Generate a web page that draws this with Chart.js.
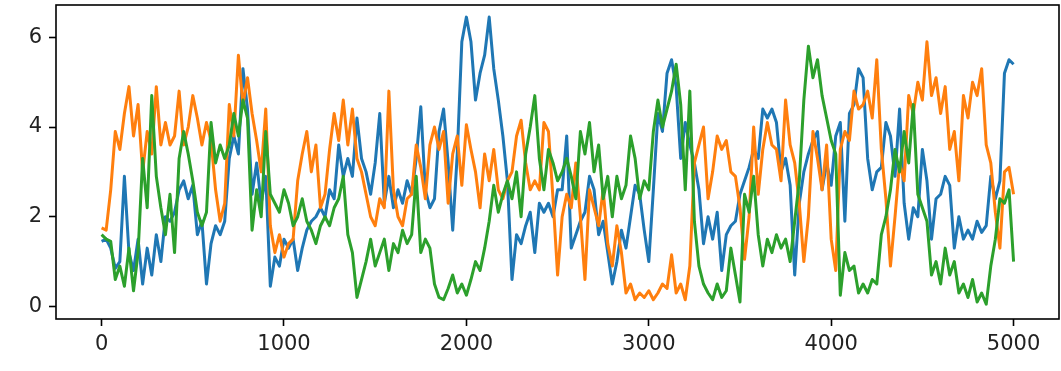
<!DOCTYPE html>
<html>
<head>
<meta charset="utf-8">
<script src="https://cdn.jsdelivr.net/npm/chart.js@4.4.1/dist/chart.umd.min.js"></script>
<style>
  html, body { margin: 0; padding: 0; background: #fff; }
  #wrap { width: 1061px; height: 371px; }
</style>
</head>
<body>
<div id="wrap"><canvas id="myChart" width="1061" height="371"></canvas></div>
<script>
// one sample every STEP steps, 0 .. 5000
const STEP = 25;

const blueValues = [
  1.45, 1.5, 1.3, 0.85, 1.0, 2.9, 1.2, 0.8, 1.5, 0.5,
  1.3, 0.7, 1.6, 1.0, 2.0, 1.9, 2.1, 2.6, 2.8, 2.4,
  2.7, 1.6, 1.9, 0.5, 1.4, 1.8, 1.6, 1.9, 3.3, 3.8,
  3.4, 5.3, 4.4, 2.5, 3.2, 2.3, 2.9, 0.45, 1.1, 0.9,
  1.5, 1.3, 1.5, 0.8, 1.3, 1.7, 1.9, 2.0, 2.2, 2.0,
  2.6, 2.4, 3.6, 2.9, 3.3, 2.9, 4.2, 3.3, 3.0, 2.5,
  3.2, 4.3, 2.3, 2.9, 2.2, 2.6, 2.3, 2.8, 2.5, 3.3,
  4.45, 2.6, 2.2, 2.4, 3.9, 4.4, 3.2, 1.7, 3.4, 5.9,
  6.45, 5.9, 4.6, 5.2, 5.6, 6.45, 5.3, 4.6, 3.8, 2.8,
  0.6, 1.6, 1.4, 1.8, 2.1, 1.2, 2.3, 2.1, 2.3, 2.0,
  2.6, 2.6, 3.8, 1.3, 1.6, 1.9, 2.1, 2.9, 2.6, 1.6,
  1.9, 1.2, 0.5, 1.0, 1.7, 1.3, 2.0, 2.7, 2.5, 1.7,
  1.0, 2.6, 4.3, 3.9, 5.2, 5.5, 4.9, 3.3, 4.1, 3.6,
  3.2, 2.6, 1.4, 2.0, 1.5, 2.1, 0.8, 1.6, 1.8, 1.9,
  2.5, 2.8, 3.1, 3.5, 3.3, 4.4, 4.2, 4.4, 4.1, 3.0,
  3.3, 2.7, 0.7, 2.3, 3.0, 3.4, 3.7, 3.9, 2.6, 3.2,
  2.7, 3.8, 4.1, 1.9, 4.3, 4.5, 5.3, 5.1, 3.3, 2.6,
  3.0, 3.1, 4.1, 3.8, 2.9, 4.4, 2.3, 1.5, 2.2, 2.0,
  3.5, 2.8, 1.5, 2.4, 2.5, 2.9, 2.7, 1.3, 2.0, 1.5,
  1.7, 1.5, 1.9, 1.65, 1.8, 2.9, 2.4, 2.8, 5.2, 5.5,
  5.4
];

const orangeValues = [
  1.75, 1.7, 2.6, 3.9, 3.5, 4.3, 4.9, 3.8, 4.5, 3.0,
  3.9, 3.4, 4.9, 3.6, 4.1, 3.6, 3.8, 4.8, 3.6, 4.0,
  4.7, 4.2, 3.6, 4.1, 3.7, 2.6, 1.9, 2.3, 4.5, 3.8,
  5.6, 4.5, 5.1, 4.3, 3.7, 3.0, 4.4, 1.8, 1.2, 1.6,
  1.1, 1.4, 1.5, 2.8, 3.4, 3.9, 3.0, 3.6, 2.2, 2.5,
  3.5, 4.3, 3.7, 4.6, 3.6, 4.4, 3.3, 3.0, 2.5, 2.0,
  1.8, 2.4, 2.2, 4.8, 2.6, 2.0, 1.8, 2.4, 2.5, 3.6,
  3.1, 2.4, 3.6, 4.0, 3.5, 3.9, 2.3, 3.4, 3.8, 2.7,
  4.05, 3.5, 3.0, 2.2, 3.4, 2.8, 3.5, 2.6, 2.4, 2.8,
  3.0, 3.8, 4.15, 3.2, 2.6, 2.8, 2.6, 4.1, 3.9, 2.4,
  0.7, 2.0, 2.5, 2.2, 3.2, 2.0, 0.6, 2.6, 2.2, 1.8,
  2.6, 1.4, 0.9, 1.8, 1.2, 0.3, 0.5, 0.15, 0.3, 0.2,
  0.35, 0.15, 0.3, 0.5, 0.4, 1.15, 0.3, 0.5, 0.15, 0.9,
  3.2, 3.6, 4.0, 2.4, 3.0, 3.8, 3.5, 3.7, 3.0, 2.9,
  2.2, 1.05, 2.0, 4.0, 2.5, 3.5, 4.1, 3.6, 3.5, 2.8,
  4.6, 3.6, 3.2, 2.3, 1.0, 2.0, 3.9, 3.3, 2.6, 3.6,
  1.5, 0.8, 3.5, 3.9, 3.7, 4.8, 4.4, 4.5, 4.8, 4.2,
  5.5, 3.5, 2.4, 0.9, 2.0, 3.2, 2.8, 4.7, 4.3, 5.0,
  4.6, 5.9, 4.7, 5.1, 4.3, 4.9, 3.5, 3.9, 2.8, 4.7,
  4.2, 5.0, 4.7, 5.3, 3.6, 3.2, 2.1, 1.3, 3.0, 3.1,
  2.5
];

const greenValues = [
  1.6, 1.5, 1.45, 0.6, 0.9, 0.45, 1.3, 0.35, 1.2, 3.3,
  2.2, 4.7, 2.9, 2.2, 1.6, 2.5, 1.2, 3.3, 3.9, 3.4,
  2.8, 2.1, 1.8, 2.1, 4.1, 3.2, 3.6, 3.3, 3.6, 4.3,
  3.8, 4.6, 4.2, 1.7, 2.6, 2.0, 3.9, 2.5, 2.3, 2.1,
  2.6, 2.3, 1.8, 2.0, 2.4, 1.9, 1.7, 1.4, 1.8, 2.0,
  1.8, 2.2, 2.4, 2.9, 1.6, 1.2, 0.2, 0.6, 1.0, 1.5,
  0.9, 1.2, 1.5, 0.8, 1.4, 1.2, 1.7, 1.4, 1.6, 2.9,
  1.2, 1.5, 1.3, 0.5, 0.2, 0.15, 0.4, 0.7, 0.3, 0.5,
  0.25, 0.6, 1.0, 0.8, 1.3, 1.9, 2.7, 2.1, 2.5, 2.8,
  2.4, 3.0, 2.0, 3.4, 4.0, 4.7, 3.3, 2.6, 3.5, 3.2,
  2.8, 3.0, 3.3, 2.9, 2.4, 3.9, 3.4, 4.1, 3.0, 3.6,
  2.4, 2.9, 2.0, 2.9, 2.4, 2.7, 3.8, 3.3, 2.4, 2.8,
  2.6, 3.9, 4.6, 4.0, 4.4, 4.8, 5.4, 4.5, 2.6, 4.8,
  1.9, 0.9, 0.5, 0.3, 0.15, 0.5, 0.2, 0.35, 1.3, 0.7,
  0.1, 2.5, 2.1, 2.9, 1.6, 0.9, 1.5, 1.2, 1.6, 1.3,
  1.5, 1.0, 1.9, 2.8, 4.6, 5.8, 5.1, 5.5, 4.7, 4.2,
  3.7, 3.4, 0.25, 1.2, 0.8, 0.9, 0.3, 0.5, 0.3, 0.6,
  0.5, 1.6, 2.0, 2.6, 3.5, 3.0, 3.9, 3.2, 4.5, 2.5,
  2.2, 1.9, 0.7, 1.0, 0.5, 1.3, 0.7, 1.0, 0.3, 0.5,
  0.2, 0.6, 0.1, 0.3, 0.05, 0.9, 1.5, 2.4, 2.3, 2.6,
  1.0
];

const xTicks = [0, 1000, 2000, 3000, 4000, 5000];
const yTicks = [0, 2, 4, 6];

const toPoints = vals => vals.map((v, i) => ({ x: i * STEP, y: v }));

const ctx = document.getElementById('myChart');

// black box around the plot area
const frame = {
  id: 'frame',
  afterDatasetsDraw(chart) {
    const a = chart.chartArea;
    const c = chart.ctx;
    c.save();
    c.strokeStyle = '#000';
    c.lineWidth = 1.6;
    c.strokeRect(a.left, a.top, a.right - a.left, a.bottom - a.top);
    c.restore();
  }
};

const tickFont = { family: 'DejaVu Sans', size: 21 };

function line(vals, color, order) {
  return {
    data: toPoints(vals),
    borderColor: color,
    borderWidth: 3,
    borderJoinStyle: 'round',
    pointRadius: 0,
    tension: 0,
    fill: false,
    order: order
  };
}

new Chart(ctx, {
  type: 'line',
  data: {
    datasets: [
      line(blueValues, '#1f77b4', 2),
      line(orangeValues, '#ff7f0e', 1),
      line(greenValues, '#2ca02c', 0)
    ]
  },
  options: {
    responsive: false,
    animation: false,
    events: [],
    layout: { padding: { top: 5, right: 2, left: 0, bottom: 0 } },
    plugins: { legend: { display: false }, tooltip: { enabled: false } },
    scales: {
      x: {
        type: 'linear',
        min: -250,
        max: 5249,
        afterBuildTicks: s => { s.ticks = xTicks.map(v => ({ value: v })); },
        afterFit: s => { s.height = 52; s.paddingLeft = 0; s.paddingRight = 0; },
        grid: { drawOnChartArea: false, tickLength: 7, tickWidth: 1.6, tickColor: '#000' },
        border: { display: false },
        ticks: { font: tickFont, color: '#222', padding: 6, maxRotation: 0, callback: v => String(v) }
      },
      y: {
        min: -0.28,
        max: 6.72,
        afterBuildTicks: s => { s.ticks = yTicks.map(v => ({ value: v })); },
        afterFit: s => { s.width = 56; s.paddingTop = 0; s.paddingBottom = 0; },
        grid: { drawOnChartArea: false, tickLength: 7, tickWidth: 1.6, tickColor: '#000' },
        border: { display: false },
        ticks: { font: tickFont, color: '#222', padding: 7, callback: v => String(v) }
      }
    }
  },
  plugins: [frame]
});
</script>
</body>
</html>
